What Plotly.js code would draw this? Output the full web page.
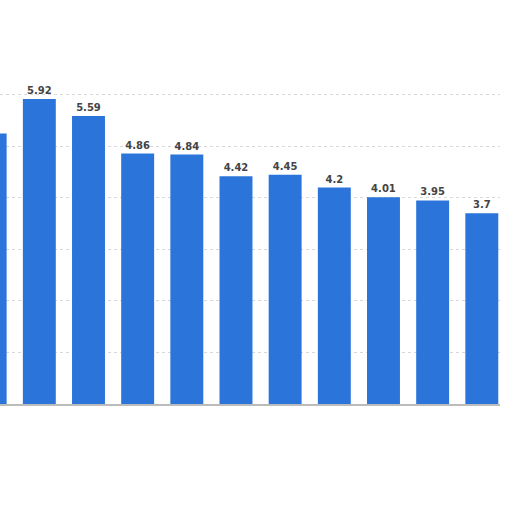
<!DOCTYPE html>
<html>
<head>
<meta charset="utf-8">
<script src="https://cdn.plot.ly/plotly-3.0.1.min.js"></script>
<style>
  html, body { margin: 0; padding: 0; background: #fff; }
  #graph { width: 512px; height: 512px; }
</style>
</head>
<body>
<div id="graph"></div>
<script>
"use strict";

// kategoriler okunamıyor (resim kırpılmış), sıra numarası kullanılıyor
const kategoriler = ['1', '2', '3', '4', '5', '6', '7', '8', '9', '10', '11'];
const degerler = [5.25, 5.92, 5.59, 4.86, 4.84, 4.42, 4.45, 4.2, 4.01, 3.95, 3.7];
const etiketler = ['5.25', '5.92', '5.59', '4.86', '4.84', '4.42', '4.45', '4.2', '4.01', '3.95', '3.7'];

const trace = {
    x: kategoriler,
    y: degerler,
    type: 'bar',
    text: etiketler,
    textposition: 'outside',
    cliponaxis: false,
    textfont: { family: 'DejaVu Sans, sans-serif', size: 10, color: '#444', weight: 'bold' },
    marker: { color: '#2b74d9' },
    hoverinfo: 'none'
};

const layout = {
    width: 512, height: 512,
    margin: { l: 0, r: 12, t: 69, b: 108 },
    paper_bgcolor: '#fff', plot_bgcolor: '#fff',
    bargap: 0.33,
    showlegend: false,
    xaxis: {
        type: 'category',
        range: [0.2, 10.37],
        showticklabels: false,
        ticks: '',
        showgrid: false,
        showline: true, linecolor: '#bbb', linewidth: 2
    },
    yaxis: {
        range: [0, 6.5],
        dtick: 1,
        showticklabels: false,
        ticks: '',
        showgrid: true, gridcolor: '#d8d8d8', griddash: 'dot', gridwidth: 1,
        zeroline: false
    }
};

Plotly.newPlot('graph', [trace], layout, { staticPlot: true }).catch(err => {
    console.error('Grafik çizilirken hata:', err);
});
</script>
</body>
</html>
